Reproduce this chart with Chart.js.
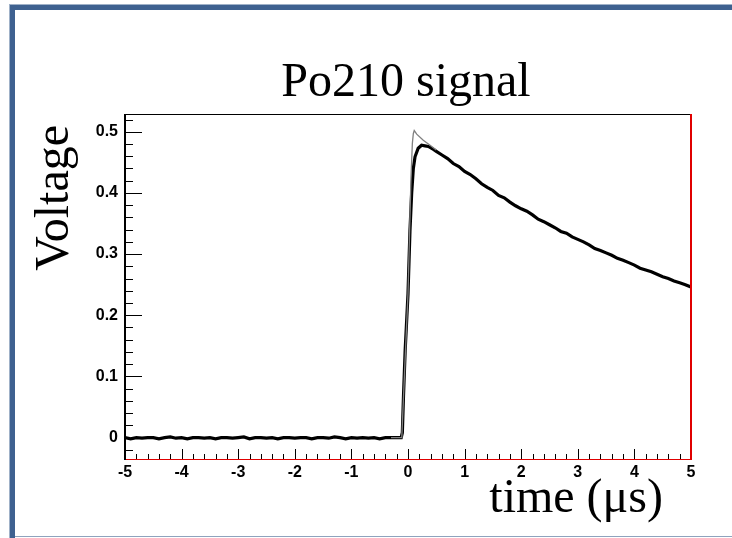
<!DOCTYPE html>
<html>
<head>
<meta charset="utf-8">
<title>Po210 signal</title>
<script src="https://cdn.jsdelivr.net/npm/chart.js@4/dist/chart.umd.min.js"></script>
<style>
  html, body { margin: 0; padding: 0; background: #fff; }
  canvas { display: block; }
</style>
</head>
<body>
<canvas id="chart" width="732" height="538"></canvas>
<script>
// time in microseconds, voltage in volts
const slowTime = [
  -5.0, -4.9, -4.8, -4.7, -4.6, -4.5, -4.4, -4.3, -4.2, -4.1,
  -4.0, -3.9, -3.8, -3.7, -3.6, -3.5, -3.4, -3.3, -3.2, -3.1,
  -3.0, -2.9, -2.8, -2.7, -2.6, -2.5, -2.4, -2.3, -2.2, -2.1,
  -2.0, -1.9, -1.8, -1.7, -1.6, -1.5, -1.4, -1.3, -1.2, -1.1,
  -1.0, -0.9, -0.8, -0.7, -0.6, -0.5, -0.4, -0.3, -0.2, -0.12,
  -0.10, -0.08, -0.05, -0.02, 0.0, 0.035, 0.065, 0.094, 0.124, 0.18,
  0.24, 0.30, 0.36, 0.45, 0.5, 0.6, 0.7, 0.8, 0.9, 1.0,
  1.1, 1.2, 1.3, 1.4, 1.5, 1.6, 1.7, 1.8, 1.9, 2.0,
  2.1, 2.2, 2.3, 2.4, 2.5, 2.6, 2.7, 2.8, 2.9, 3.0,
  3.1, 3.2, 3.3, 3.4, 3.5, 3.6, 3.7, 3.8, 3.9, 4.0,
  4.1, 4.2, 4.3, 4.4, 4.5, 4.6, 4.7, 4.8, 4.9, 5.0
]
const slowVolt = [
  0.000, -0.002, 0.000, -0.001, 0.000, 0.000, -0.002, 0.000, 0.001, -0.001,
  0.000, -0.002, 0.000, 0.000, -0.001, 0.000, -0.002, 0.000, 0.000, -0.001,
  0.000, 0.001, -0.002, 0.000, 0.000, -0.001, 0.000, -0.002, 0.000, 0.000,
  -0.001, 0.000, 0.000, -0.002, 0.000, 0.000, -0.001, 0.001, 0.000, -0.002,
  0.000, -0.001, 0.000, -0.001, 0.000, -0.002, 0.000, 0.000, 0.000, 0.000,
  0.008, 0.067, 0.143, 0.198, 0.235, 0.339, 0.400, 0.440, 0.459, 0.473,
  0.478, 0.477, 0.476, 0.471, 0.468, 0.462, 0.456, 0.448, 0.443, 0.435,
  0.430, 0.423, 0.415, 0.409, 0.404, 0.396, 0.392, 0.385, 0.379, 0.374,
  0.370, 0.364, 0.357, 0.353, 0.348, 0.343, 0.337, 0.334, 0.328, 0.324,
  0.320, 0.315, 0.309, 0.306, 0.302, 0.298, 0.293, 0.290, 0.286, 0.282,
  0.277, 0.274, 0.271, 0.267, 0.263, 0.260, 0.256, 0.253, 0.250, 0.246
]
const fastTime = [-0.3, -0.11, -0.05, 0.0, 0.053, 0.077, 0.094, 0.11, 0.154, 0.27, 0.39, 0.5]
const fastVolt = [0.000, 0.000, 0.130, 0.235, 0.426, 0.481, 0.497, 0.502, 0.496, 0.486, 0.478, 0.470]

const xTickValues = [-5, -4, -3, -2, -1, 0, 1, 2, 3, 4, 5]
const yTickValues = [0, 0.1, 0.2, 0.3, 0.4, 0.5]

const titleText = "Po210 signal"
const xTitle = "time (\u03bcs)"
const yTitle = "Voltage"

const pairs = (xs, ys) => xs.map((x, i) => ({ x: x, y: ys[i] }))

const rootFrame = {
  id: "rootFrame",
  beforeDraw(chart) {
    const ctx = chart.ctx
    ctx.save()
    ctx.fillStyle = "#ffffff"
    ctx.fillRect(0, 0, chart.width, chart.height)
    // slide border
    ctx.fillStyle = "#9fb1c8"
    ctx.fillRect(9, 4, chart.width - 9, 1)
    ctx.fillRect(9, 4, 1, chart.height - 4)
    ctx.fillStyle = "#3e6190"
    ctx.fillRect(10, 5, chart.width - 10, 5)
    ctx.fillRect(10, 5, 5, chart.height - 5)
    ctx.fillStyle = "#8fa3bd"
    ctx.fillRect(15, chart.height - 2, chart.width - 15, 1)
    ctx.restore()
  },
  afterDraw(chart) {
    const ctx = chart.ctx
    const area = chart.chartArea
    const xs = chart.scales.x
    const ys = chart.scales.y
    ctx.save()

    // inner tick marks
    ctx.strokeStyle = "#000"
    ctx.lineWidth = 1
    ctx.beginPath()
    for (let i = -1; i <= 26; i++) {
      const v = i * 0.02
      if (v < ys.min || v > ys.max) continue
      const y = Math.round(ys.getPixelForValue(v)) + 0.5
      const len = i % 5 === 0 ? 17 : 8
      ctx.moveTo(area.left, y)
      ctx.lineTo(area.left + len, y)
    }
    for (let i = -25; i <= 25; i++) {
      const x = Math.round(xs.getPixelForValue(i * 0.2)) + 0.5
      const len = i % 5 === 0 ? 10 : 5
      ctx.moveTo(x, area.bottom)
      ctx.lineTo(x, area.bottom - len)
    }
    ctx.stroke()

    // frame: black left/top, red right/bottom
    ctx.fillStyle = "#000"
    ctx.fillRect(area.left - 1, area.top, 2, area.bottom - area.top + 1)
    ctx.fillRect(area.left - 1, area.top, area.right - area.left, 1)
    ctx.fillStyle = "#e00000"
    ctx.fillRect(area.right - 1, area.top, 2, area.bottom - area.top + 1)
    ctx.fillRect(area.left + 1, area.bottom, area.right - area.left, 1)

    // titles
    ctx.fillStyle = "#000"
    ctx.font = "48px 'Liberation Serif', 'Times New Roman', serif"
    ctx.textBaseline = "alphabetic"
    ctx.textAlign = "center"
    ctx.fillText(titleText, 406, 96)
    ctx.textAlign = "right"
    ctx.fillText(xTitle, area.right - 28, 512)
    ctx.translate(68, area.top + 11)
    ctx.rotate(-Math.PI / 2)
    ctx.fillText(yTitle, 0, 0)
    ctx.restore()
  }
}

const tickFont = { family: "'Liberation Sans', Arial, sans-serif", size: 16, weight: "bold" }

new Chart(document.getElementById("chart"), {
  type: "line",
  data: {
    datasets: [
      {
        label: "fast",
        data: pairs(fastTime, fastVolt),
        borderColor: "#808080",
        borderWidth: 1.3,
        pointRadius: 0,
        tension: 0,
        order: 0
      },
      {
        label: "slow",
        data: pairs(slowTime, slowVolt),
        borderColor: "#000000",
        borderWidth: 3.2,
        pointRadius: 0,
        tension: 0,
        order: 1
      }
    ]
  },
  options: {
    responsive: false,
    animation: false,
    devicePixelRatio: 1,
    layout: { padding: { left: 65, right: 41, top: 114, bottom: 0 } },
    scales: {
      x: {
        type: "linear",
        min: -5,
        max: 5,
        afterBuildTicks: s => { s.ticks = xTickValues.map(v => ({ value: v })) },
        afterFit: s => { s.height = 79 },
        grid: { display: false, drawTicks: false },
        border: { display: false },
        ticks: {
          color: "#000",
          font: tickFont,
          padding: 4,
          maxRotation: 0,
          autoSkip: false,
          callback: v => String(v)
        }
      },
      y: {
        type: "linear",
        min: -0.035,
        max: 0.529,
        afterBuildTicks: s => { s.ticks = yTickValues.map(v => ({ value: v })) },
        afterFit: s => { s.width = 60 },
        grid: { display: false, drawTicks: false },
        border: { display: false },
        ticks: {
          color: "#000",
          font: tickFont,
          padding: 7,
          autoSkip: false,
          callback: v => (v === 0 ? "0" : v.toFixed(1))
        }
      }
    },
    plugins: {
      legend: { display: false },
      tooltip: { enabled: false },
      title: { display: false }
    }
  },
  plugins: [rootFrame]
})
</script>
</body>
</html>
